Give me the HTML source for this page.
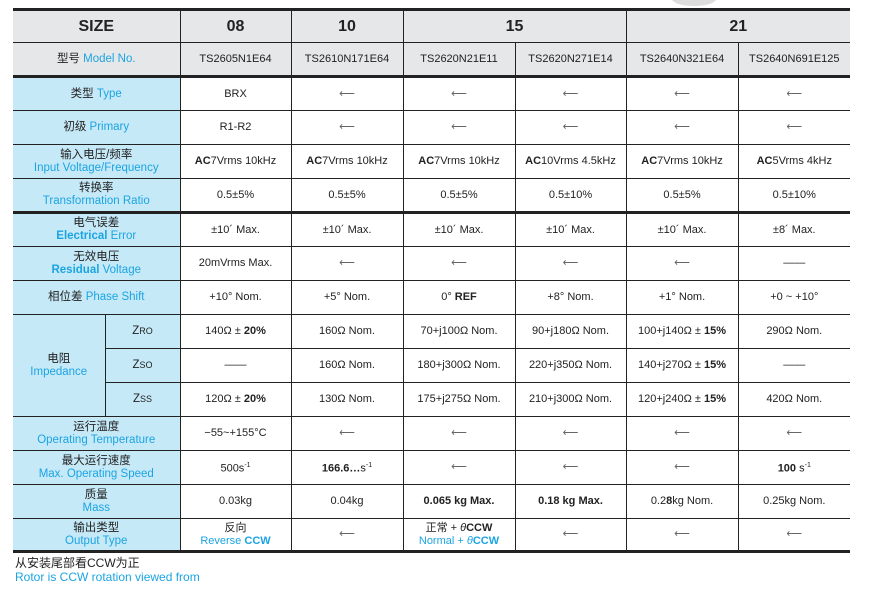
<!DOCTYPE html>
<html><head><meta charset="utf-8"><style>
body{margin:0;width:893px;height:601px;background:#fff;position:relative;overflow:hidden;font-family:"Liberation Sans","Noto Sans CJK SC",sans-serif;color:#222}
table{position:absolute;left:13px;top:8px;border-collapse:collapse;table-layout:fixed;width:837px}
td{border:1px solid #222;text-align:center;vertical-align:middle;font-size:11px;padding:0;line-height:13px;overflow:hidden;white-space:nowrap}
tr td:first-child{border-left:none}
tr td:last-child{border-right:none}
.g td{background:#e6e7e8}
.l{background:#c6e9f8;font-size:11.5px}
.b{color:#1ba4e2}
.thick td{border-top:3px solid #222}
.thickb td{border-bottom:3px solid #222}
.h td{font-size:16px;font-weight:bold}
.s{font-size:7px;vertical-align:super}
.a{color:#666}
</style></head><body>
<div style="position:absolute;left:672px;top:-8px;width:44px;height:14px;border-radius:50%;background:#ddd"></div>
<table>
<colgroup><col style="width:92px"><col style="width:75px"><col style="width:111px"><col style="width:112px"><col style="width:112px"><col style="width:111px"><col style="width:112px"><col style="width:112px"></colgroup>
<tr class="g h thick" style="height:33px"><td colspan="2">SIZE</td><td>08</td><td>10</td><td colspan="2">15</td><td colspan="2">21</td></tr>
<tr class="g thickb" style="height:34px"><td colspan="2" style="font-size:11.5px">型号 <span class="b">Model No.</span></td><td>TS2605N1E64</td><td>TS2610N171E64</td><td>TS2620N21E11</td><td>TS2620N271E14</td><td>TS2640N321E64</td><td>TS2640N691E125</td></tr>
<tr style="height:34px"><td colspan="2" class="l">类型 <span class="b">Type</span></td><td>BRX</td><td class="a">⟵</td><td class="a">⟵</td><td class="a">⟵</td><td class="a">⟵</td><td class="a">⟵</td></tr>
<tr style="height:34px"><td colspan="2" class="l">初级 <span class="b">Primary</span></td><td>R1-R2</td><td class="a">⟵</td><td class="a">⟵</td><td class="a">⟵</td><td class="a">⟵</td><td class="a">⟵</td></tr>
<tr style="height:34px"><td colspan="2" class="l">输入电压/频率<br><span class="b">Input Voltage/Frequency</span></td><td><b>AC</b>7Vrms 10kHz</td><td><b>AC</b>7Vrms 10kHz</td><td><b>AC</b>7Vrms 10kHz</td><td><b>AC</b>10Vrms 4.5kHz</td><td><b>AC</b>7Vrms 10kHz</td><td><b>AC</b>5Vrms 4kHz</td></tr>
<tr class="thickb" style="height:34px"><td colspan="2" class="l">转换率<br><span class="b">Transformation Ratio</span></td><td>0.5±5%</td><td>0.5±5%</td><td>0.5±5%</td><td>0.5±10%</td><td>0.5±5%</td><td>0.5±10%</td></tr>
<tr style="height:34px"><td colspan="2" class="l">电气误差<br><span class="b"><b>Electrical</b> Error</span></td><td>±10´ Max.</td><td>±10´ Max.</td><td>±10´ Max.</td><td>±10´ Max.</td><td>±10´ Max.</td><td>±8´ Max.</td></tr>
<tr style="height:34px"><td colspan="2" class="l">无效电压<br><span class="b"><b>Residual</b> Voltage</span></td><td>20mVrms Max.</td><td class="a">⟵</td><td class="a">⟵</td><td class="a">⟵</td><td class="a">⟵</td><td>——</td></tr>
<tr style="height:34px"><td colspan="2" class="l">相位差 <span class="b">Phase Shift</span></td><td>+10° Nom.</td><td>+5° Nom.</td><td>0° <b>REF</b></td><td>+8° Nom.</td><td>+1° Nom.</td><td>+0 ~ +10°</td></tr>
<tr style="height:34px"><td rowspan="3" class="l">电阻<br><span class="b">Impedance</span></td><td class="l">Z<span style="font-size:9px">RO</span></td><td>140Ω ± <b>20%</b></td><td>160Ω Nom.</td><td>70+j100Ω Nom.</td><td>90+j180Ω Nom.</td><td>100+j140Ω ± <b>15%</b></td><td>290Ω Nom.</td></tr>
<tr style="height:34px"><td class="l">Z<span style="font-size:9px">SO</span></td><td>——</td><td>160Ω Nom.</td><td>180+j300Ω Nom.</td><td>220+j350Ω Nom.</td><td>140+j270Ω ± <b>15%</b></td><td>——</td></tr>
<tr style="height:34px"><td class="l">Z<span style="font-size:9px">SS</span></td><td>120Ω ± <b>20%</b></td><td>130Ω Nom.</td><td>175+j275Ω Nom.</td><td>210+j300Ω Nom.</td><td>120+j240Ω ± <b>15%</b></td><td>420Ω Nom.</td></tr>
<tr style="height:34px"><td colspan="2" class="l">运行温度<br><span class="b">Operating Temperature</span></td><td>−55~+155°C</td><td class="a">⟵</td><td class="a">⟵</td><td class="a">⟵</td><td class="a">⟵</td><td class="a">⟵</td></tr>
<tr style="height:34px"><td colspan="2" class="l">最大运行速度<br><span class="b">Max. Operating Speed</span></td><td>500s<span class="s">-1</span></td><td><b>166.6…</b>s<span class="s">-1</span></td><td class="a">⟵</td><td class="a">⟵</td><td class="a">⟵</td><td><b>100</b> s<span class="s">-1</span></td></tr>
<tr style="height:34px"><td colspan="2" class="l">质量<br><span class="b">Mass</span></td><td>0.03kg</td><td>0.04kg</td><td><b>0.065 kg Max.</b></td><td><b>0.18 kg Max.</b></td><td>0.2<b>8</b>kg Nom.</td><td>0.25kg Nom.</td></tr>
<tr class="thickb" style="height:33px"><td colspan="2" class="l">输出类型<br><span class="b">Output Type</span></td><td>反向<br><span class="b">Reverse <b>CCW</b></span></td><td class="a">⟵</td><td>正常 + <i>θ</i><b>CCW</b><br><span class="b">Normal + <i>θ</i><b>CCW</b></span></td><td class="a">⟵</td><td class="a">⟵</td><td class="a">⟵</td></tr>
</table>
<div style="position:absolute;left:15px;top:556px;font-size:12px;line-height:14px">从安装尾部看CCW为正</div>
<div style="position:absolute;left:15px;top:570px;font-size:12px;line-height:14px;color:#1ba4e2">Rotor is CCW rotation viewed from</div>
</body></html>
